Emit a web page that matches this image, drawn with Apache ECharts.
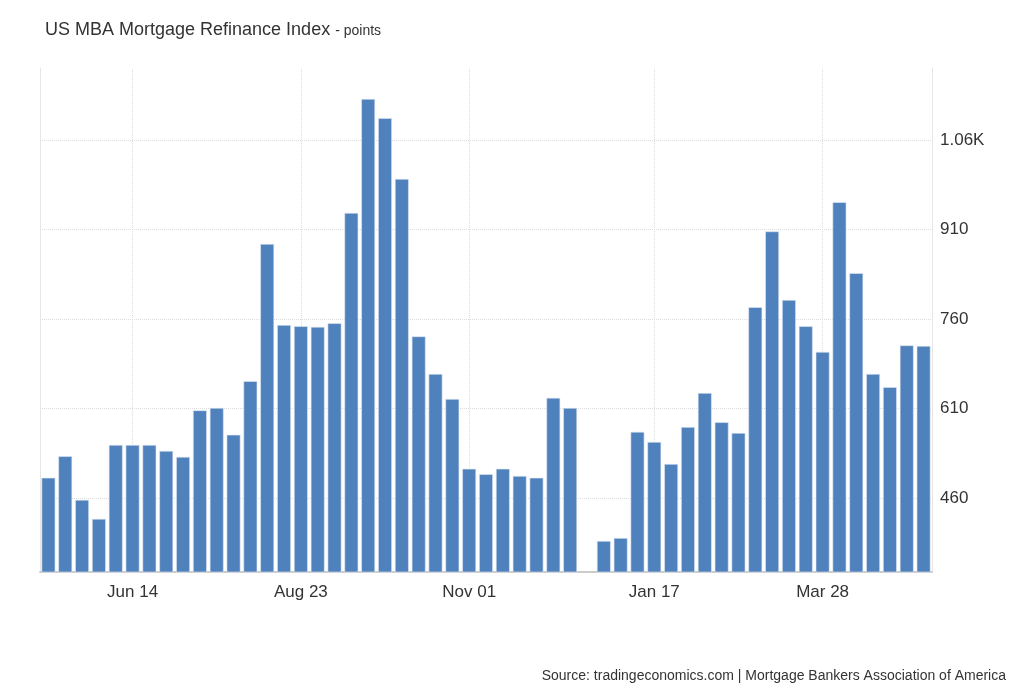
<!DOCTYPE html>
<html>
<head>
<meta charset="utf-8">
<script src="https://cdn.jsdelivr.net/npm/echarts@6/dist/echarts.min.js"></script>
<style>
  html, body { margin: 0; padding: 0; background: #fff; }
  #main { width: 1024px; height: 700px; }
</style>
</head>
<body>
<div id="main"></div>
<script>
// weekly dates, May 2024 - May 2025 (Dec 20 missing)
var dates = [
    'May 10','May 17','May 24','May 31','Jun 07','Jun 14','Jun 21','Jun 28',
    'Jul 05','Jul 12','Jul 19','Jul 26','Aug 02','Aug 09','Aug 16','Aug 23',
    'Aug 30','Sep 06','Sep 13','Sep 20','Sep 27','Oct 04','Oct 11','Oct 18',
    'Oct 25','Nov 01','Nov 08','Nov 15','Nov 22','Nov 29','Dec 06','Dec 13',
    'Dec 20','Dec 27','Jan 03','Jan 10','Jan 17','Jan 24','Jan 31','Feb 07',
    'Feb 14','Feb 21','Feb 28','Mar 07','Mar 14','Mar 21','Mar 28','Apr 04',
    'Apr 11','Apr 18','Apr 25','May 02','May 09'
];
var refiValues = [
    494, 530, 457, 425, 549, 549, 549, 539,
    529, 607, 611, 566, 656, 886, 750, 748,
    747, 753, 938, 1129, 1097, 995, 731, 668,
    626, 509, 500, 509, 497, 494, 628, 611,
    null, 388, 393, 571, 554, 517, 579, 636,
    587, 569, 780, 907, 792, 748, 705, 956,
    837, 668, 646, 716, 715
];
var shownLabels = ['Jun 14', 'Aug 23', 'Nov 01', 'Jan 17', 'Mar 28'];
var yTicks = [460, 610, 760, 910, 1060];

var chart = echarts.init(document.getElementById('main'));

var option = {
    backgroundColor: '#fff',
    animation: false,
    title: {
        text: '{a|US MBA Mortgage Refinance Index} {b|- points}',
        left: 40,
        top: 16,
        textStyle: {
            fontWeight: 'normal',
            rich: {
                a: { fontFamily: 'Liberation Sans', fontSize: 18, fontWeight: 'normal', color: '#333' },
                b: { fontFamily: 'Liberation Sans', fontSize: 14, fontWeight: 'normal', color: '#333', padding: [3, 0, 0, 0] }
            }
        }
    },
    graphic: [
        {
            type: 'text', right: 18, top: 669,
            style: { text: 'Source: tradingeconomics.com | Mortgage Bankers Association of America',
                fontFamily: 'Liberation Sans', fontSize: 14, fill: '#333' }
        }
    ],
    grid: { left: 40, right: 92, top: 68, bottom: 128 },
    xAxis: {
        type: 'category',
        data: dates,
        axisLine: { lineStyle: { color: '#ccc', width: 2 } },
        axisTick: { show: false },
        axisLabel: {
            interval: function (i, v) { return shownLabels.indexOf(v) >= 0; },
            fontFamily: 'Liberation Sans', fontSize: 17, color: '#333', margin: 12
        },
        splitLine: { show: false }
    },
    yAxis: [{
        type: 'value',
        position: 'right',
        min: 336,
        max: 1181,
        axisLine: { show: true, lineStyle: { color: '#e6e6e6' } },
        axisTick: { show: false, customValues: yTicks },
        axisLabel: {
            customValues: yTicks,
            fontFamily: 'Liberation Sans', fontSize: 17, color: '#333', margin: 8,
            formatter: function (v) { return v >= 1000 ? (v / 1000).toFixed(2) + 'K' : v; }
        },
        splitLine: { show: true, lineStyle: { color: '#ddd', type: 'dotted' } }
    }, {
        type: 'value',
        position: 'left',
        min: 336,
        max: 1181,
        axisLine: { show: true, lineStyle: { color: '#e6e6e6' } },
        axisTick: { show: false },
        axisLabel: { show: false },
        splitLine: { show: false }
    }],
    series: [{
        type: 'bar',
        z: 3,
        data: refiValues,
        barCategoryGap: '18%',
        itemStyle: { color: '#4f81bd', borderColor: '#dfe7f2', borderWidth: 0.6 },
        markLine: {
            z: 0,
            silent: true,
            symbol: 'none',
            label: { show: false },
            lineStyle: { color: '#ddd', type: 'dotted', width: 1 },
            data: shownLabels.map(function (d) { return { xAxis: d }; })
        }
    }]
};

chart.setOption(option);
</script>
</body>
</html>
